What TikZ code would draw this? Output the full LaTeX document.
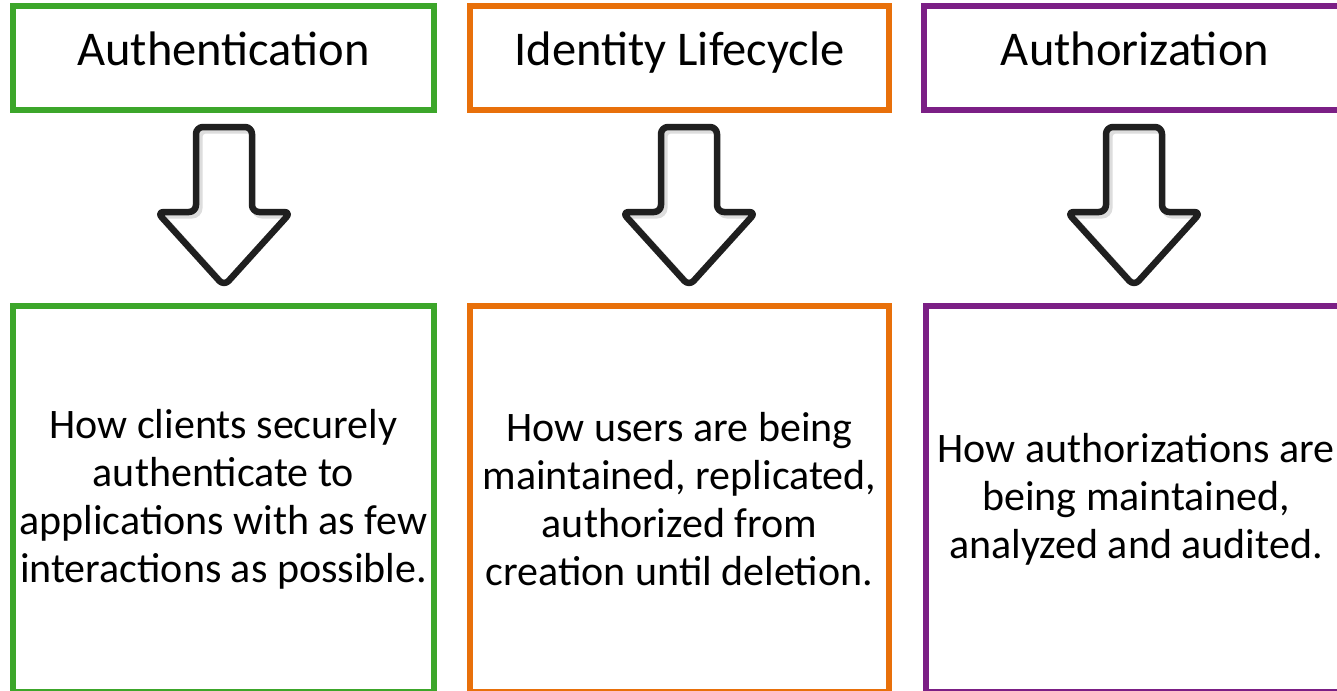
\documentclass[tikz,border=0pt]{standalone}
\usepackage{fontspec}
\setmainfont{Carlito}
\definecolor{cgreen}{HTML}{3CA62A}
\definecolor{corange}{HTML}{E8700A}
\definecolor{cpurple}{HTML}{7B1F85}
\definecolor{cshadow}{HTML}{DDDDDD}
\begin{document}
\begin{tikzpicture}[x=1pt,y=-1pt,
  tbox/.style={draw=#1, line width=5.5pt, rectangle, inner sep=0pt,
    minimum height=104pt, font=\fontsize{48.5}{56}\selectfont,
    text height=31pt, text depth=15pt},
  bbox/.style={draw=#1, line width=5.5pt, rectangle, inner sep=0pt,
    minimum height=386pt, align=center, font=\fontsize{42}{48}\selectfont},
  arrowpath/.style={rounded corners=7pt},
  blockarrow/.pic={
    \begin{scope}
      \clip[arrowpath] (-28,127) -- (28,127) -- (28,212) -- (67,212) -- (0,286) -- (-67,212) -- (-28,212) -- cycle;
      \draw[cshadow, line width=7pt, arrowpath, shift={(3,3)}]
        (-28,127) -- (28,127) -- (28,212) -- (67,212) -- (0,286) -- (-67,212) -- (-28,212) -- cycle;
    \end{scope}
    \draw[black!88, line width=6.5pt, arrowpath, line join=round]
      (-28,127) -- (28,127) -- (28,212) -- (67,212) -- (0,286) -- (-67,212) -- (-28,212) -- cycle;
  }
]
\useasboundingbox (0,0) rectangle (1337,690);
\fill[white] (0,0) rectangle (1337,690);
\clip (0,0) rectangle (1337,690);

\node[tbox=cgreen, minimum width=421pt] (t1) at (223.5,58) {Authentication};
\node[tbox=corange, minimum width=419pt] (t2) at (679.5,58) {Identity Lifecycle};
\node[tbox=cpurple, minimum width=422pt] (t3) at (1135,58) {Authorization};

\node[bbox=cgreen, minimum width=421pt] (b1) at (223.5,499)
  {How clients securely\\authenticate to\\applications with as few\\interactions as possible.};
\node[bbox=corange, minimum width=419pt] (b2) at (679.5,499)
  {How users are being\\maintained, replicated,\\authorized from\\creation until deletion.};
\node[bbox=cpurple, minimum width=420pt] (b3) at (1136,499)
  {How authorizations are\\being maintained,\\analyzed and audited.};

\pic at (224,0) {blockarrow};
\pic at (689,0) {blockarrow};
\pic at (1134,0) {blockarrow};
\end{tikzpicture}
\end{document}
